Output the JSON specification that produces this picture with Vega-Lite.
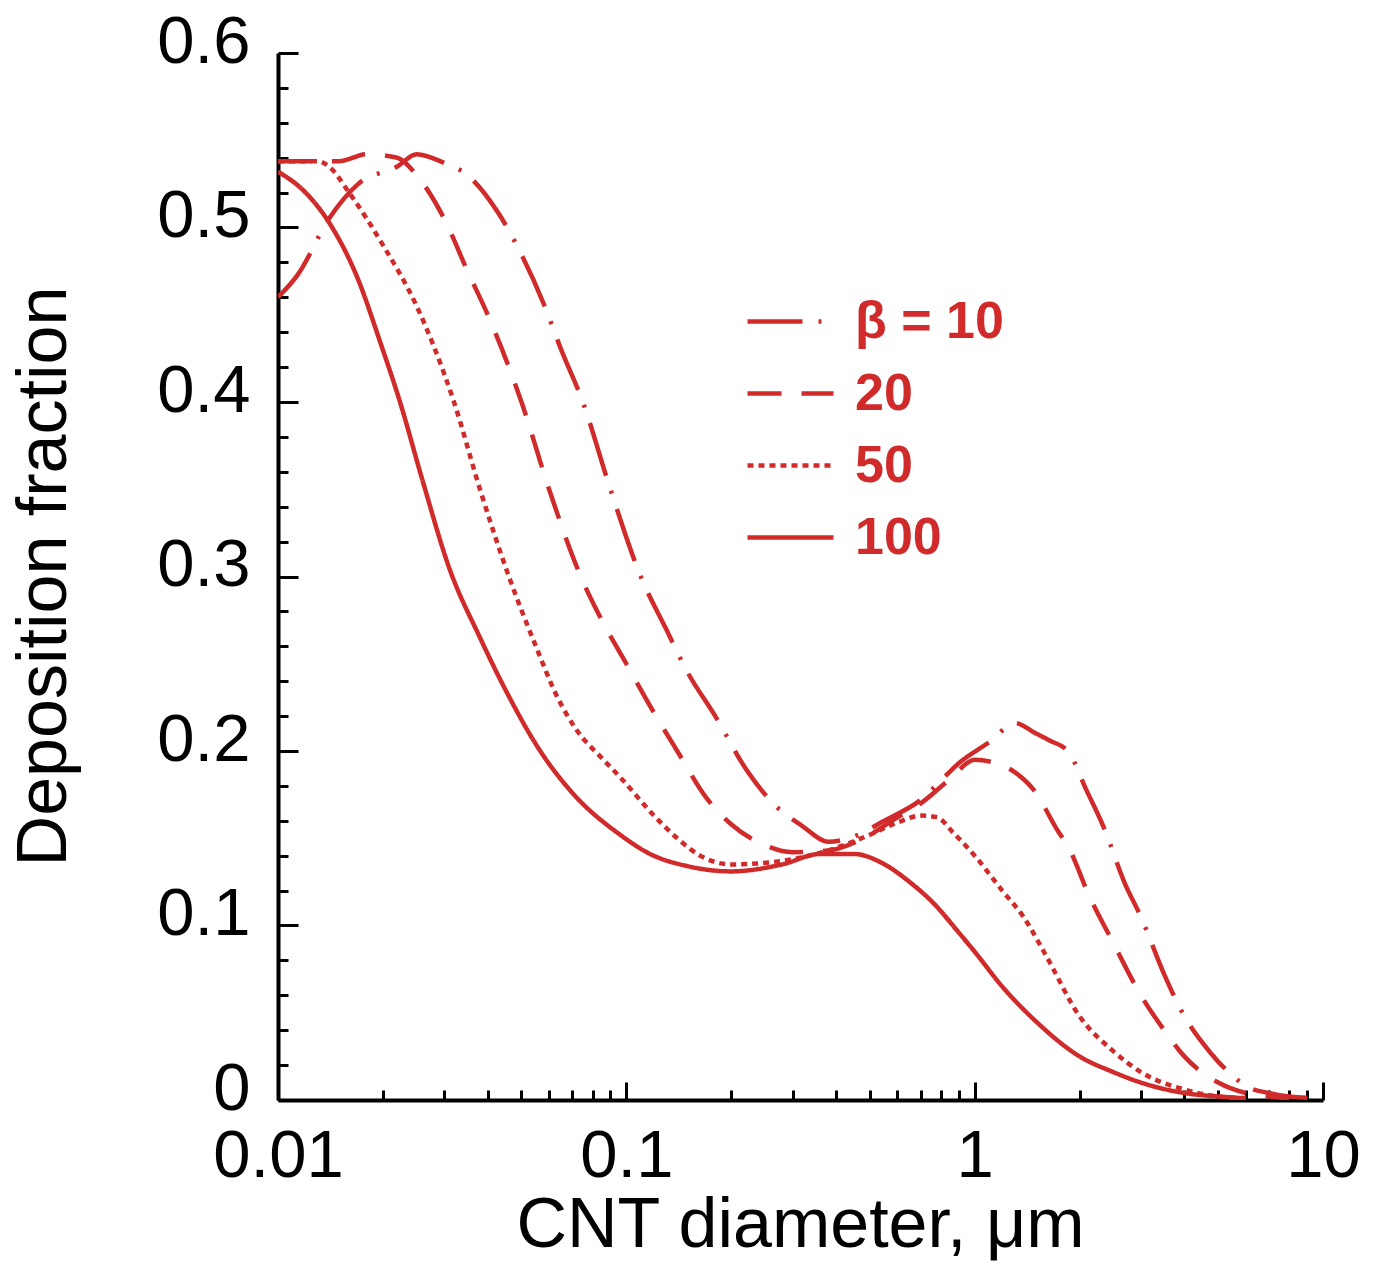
{
  "$schema": "https://vega.github.io/schema/vega-lite/v6.json",
  "width": 1045,
  "height": 1047,
  "autosize": "none",
  "padding": {"left": 278, "top": 53, "right": 53, "bottom": 179},
  "background": "white",
  "config": {"view": {"stroke": null}, "font": "Liberation Sans"},
  "data": {"values": [
    {"d":0.01,"f":0.46,"beta":"10"},{"d":0.0114,"f":0.473,"beta":"10"},{"d":0.014,"f":0.505,"beta":"10"},{"d":0.017,"f":0.525,"beta":"10"},{"d":0.022,"f":0.535,"beta":"10"},{"d":0.025,"f":0.542,"beta":"10"},{"d":0.03,"f":0.537,"beta":"10"},{"d":0.035,"f":0.53,"beta":"10"},{"d":0.043,"f":0.508,"beta":"10"},{"d":0.049,"f":0.488,"beta":"10"},{"d":0.058,"f":0.456,"beta":"10"},{"d":0.065,"f":0.43,"beta":"10"},{"d":0.075,"f":0.4,"beta":"10"},{"d":0.09,"f":0.35,"beta":"10"},{"d":0.11,"f":0.3,"beta":"10"},{"d":0.13,"f":0.27,"beta":"10"},{"d":0.15,"f":0.245,"beta":"10"},{"d":0.18,"f":0.22,"beta":"10"},{"d":0.22,"f":0.19,"beta":"10"},{"d":0.27,"f":0.168,"beta":"10"},{"d":0.32,"f":0.157,"beta":"10"},{"d":0.38,"f":0.148,"beta":"10"},{"d":0.45,"f":0.151,"beta":"10"},{"d":0.55,"f":0.16,"beta":"10"},{"d":0.71,"f":0.173,"beta":"10"},{"d":0.8,"f":0.183,"beta":"10"},{"d":0.9,"f":0.193,"beta":"10"},{"d":1.1,"f":0.205,"beta":"10"},{"d":1.31,"f":0.216,"beta":"10"},{"d":1.5,"f":0.21,"beta":"10"},{"d":1.64,"f":0.206,"beta":"10"},{"d":1.85,"f":0.2,"beta":"10"},{"d":2.1,"f":0.177,"beta":"10"},{"d":2.35,"f":0.156,"beta":"10"},{"d":2.7,"f":0.124,"beta":"10"},{"d":3,"f":0.105,"beta":"10"},{"d":3.5,"f":0.072,"beta":"10"},{"d":4,"f":0.048,"beta":"10"},{"d":4.5,"f":0.033,"beta":"10"},{"d":5,"f":0.022,"beta":"10"},{"d":5.5,"f":0.014,"beta":"10"},{"d":6,"f":0.008,"beta":"10"},{"d":7,"f":0.004,"beta":"10"},{"d":8,"f":0.002,"beta":"10"},{"d":10,"f":0.001,"beta":"10"},

    {"d":0.01,"f":0.538,"beta":"20"},{"d":0.015,"f":0.538,"beta":"20"},{"d":0.018,"f":0.542,"beta":"20"},{"d":0.022,"f":0.54,"beta":"20"},{"d":0.025,"f":0.53,"beta":"20"},{"d":0.03,"f":0.505,"beta":"20"},{"d":0.035,"f":0.475,"beta":"20"},{"d":0.04,"f":0.45,"beta":"20"},{"d":0.05,"f":0.4,"beta":"20"},{"d":0.06,"f":0.35,"beta":"20"},{"d":0.074,"f":0.3,"beta":"20"},{"d":0.085,"f":0.275,"beta":"20"},{"d":0.1,"f":0.25,"beta":"20"},{"d":0.12,"f":0.222,"beta":"20"},{"d":0.14,"f":0.2,"beta":"20"},{"d":0.17,"f":0.173,"beta":"20"},{"d":0.2,"f":0.158,"beta":"20"},{"d":0.25,"f":0.146,"beta":"20"},{"d":0.3,"f":0.142,"beta":"20"},{"d":0.38,"f":0.143,"beta":"20"},{"d":0.5,"f":0.152,"beta":"20"},{"d":0.6,"f":0.162,"beta":"20"},{"d":0.7,"f":0.17,"beta":"20"},{"d":0.85,"f":0.184,"beta":"20"},{"d":1.0,"f":0.195,"beta":"20"},{"d":1.15,"f":0.193,"beta":"20"},{"d":1.3,"f":0.188,"beta":"20"},{"d":1.5,"f":0.176,"beta":"20"},{"d":1.7,"f":0.157,"beta":"20"},{"d":1.9,"f":0.141,"beta":"20"},{"d":2.1,"f":0.12,"beta":"20"},{"d":2.5,"f":0.09,"beta":"20"},{"d":3,"f":0.06,"beta":"20"},{"d":3.5,"f":0.04,"beta":"20"},{"d":4,"f":0.025,"beta":"20"},{"d":5,"f":0.01,"beta":"20"},{"d":6,"f":0.004,"beta":"20"},{"d":7,"f":0.002,"beta":"20"},{"d":8,"f":0.001,"beta":"20"},

    {"d":0.01,"f":0.538,"beta":"50"},{"d":0.013,"f":0.538,"beta":"50"},{"d":0.014,"f":0.535,"beta":"50"},{"d":0.016,"f":0.52,"beta":"50"},{"d":0.02,"f":0.49,"beta":"50"},{"d":0.025,"f":0.455,"beta":"50"},{"d":0.028,"f":0.432,"beta":"50"},{"d":0.032,"f":0.4,"beta":"50"},{"d":0.038,"f":0.35,"beta":"50"},{"d":0.046,"f":0.3,"beta":"50"},{"d":0.055,"f":0.26,"beta":"50"},{"d":0.063,"f":0.232,"beta":"50"},{"d":0.072,"f":0.212,"beta":"50"},{"d":0.085,"f":0.196,"beta":"50"},{"d":0.096,"f":0.185,"beta":"50"},{"d":0.12,"f":0.163,"beta":"50"},{"d":0.14,"f":0.15,"beta":"50"},{"d":0.163,"f":0.14,"beta":"50"},{"d":0.2,"f":0.135,"beta":"50"},{"d":0.3,"f":0.138,"beta":"50"},{"d":0.38,"f":0.143,"beta":"50"},{"d":0.5,"f":0.152,"beta":"50"},{"d":0.6,"f":0.159,"beta":"50"},{"d":0.7,"f":0.163,"beta":"50"},{"d":0.78,"f":0.162,"beta":"50"},{"d":0.87,"f":0.153,"beta":"50"},{"d":1.0,"f":0.14,"beta":"50"},{"d":1.2,"f":0.12,"beta":"50"},{"d":1.38,"f":0.105,"beta":"50"},{"d":1.6,"f":0.083,"beta":"50"},{"d":2,"f":0.048,"beta":"50"},{"d":2.5,"f":0.028,"beta":"50"},{"d":3,"f":0.016,"beta":"50"},{"d":4,"f":0.006,"beta":"50"},{"d":5,"f":0.002,"beta":"50"},{"d":6,"f":0.001,"beta":"50"},

    {"d":0.01,"f":0.532,"beta":"100"},{"d":0.012,"f":0.52,"beta":"100"},{"d":0.014,"f":0.503,"beta":"100"},{"d":0.017,"f":0.47,"beta":"100"},{"d":0.0196,"f":0.435,"beta":"100"},{"d":0.0224,"f":0.4,"beta":"100"},{"d":0.026,"f":0.355,"beta":"100"},{"d":0.031,"f":0.305,"beta":"100"},{"d":0.038,"f":0.265,"beta":"100"},{"d":0.045,"f":0.235,"beta":"100"},{"d":0.0566,"f":0.2,"beta":"100"},{"d":0.07,"f":0.176,"beta":"100"},{"d":0.096,"f":0.152,"beta":"100"},{"d":0.117,"f":0.141,"beta":"100"},{"d":0.15,"f":0.134,"beta":"100"},{"d":0.2,"f":0.131,"beta":"100"},{"d":0.28,"f":0.135,"beta":"100"},{"d":0.36,"f":0.141,"beta":"100"},{"d":0.45,"f":0.141,"beta":"100"},{"d":0.54,"f":0.136,"beta":"100"},{"d":0.65,"f":0.125,"beta":"100"},{"d":0.76,"f":0.113,"beta":"100"},{"d":0.9,"f":0.096,"beta":"100"},{"d":1.0,"f":0.085,"beta":"100"},{"d":1.2,"f":0.065,"beta":"100"},{"d":1.5,"f":0.045,"beta":"100"},{"d":2,"f":0.025,"beta":"100"},{"d":2.5,"f":0.016,"beta":"100"},{"d":3,"f":0.01,"beta":"100"},{"d":4,"f":0.004,"beta":"100"},{"d":5,"f":0.002,"beta":"100"},{"d":6,"f":0.001,"beta":"100"}
  ]},
  "layer": [
    {
      "mark": {"type": "line", "opacity": 0, "interpolate": "monotone", "clip": true},
      "encoding": {
        "x": {
          "field": "d", "type": "quantitative",
          "scale": {"type": "log", "domain": [0.01, 10], "nice": false},
          "axis": {
            "orient": "top", "offset": -1047, "title": null, "labels": false, "domain": false, "grid": false,
            "values": [0.02,0.03,0.04,0.05,0.06,0.07,0.08,0.09,0.2,0.3,0.4,0.5,0.6,0.7,0.8,0.9,2,3,4,5,6,7,8,9],
            "tickSize": 10, "tickWidth": 3, "tickColor": "black"
          }
        },
        "y": {
          "field": "f", "type": "quantitative",
          "scale": {"domain": [0, 0.6], "nice": false, "zero": false},
          "axis": {
            "orient": "right", "offset": -1045, "title": null, "labels": false, "domain": false, "grid": false,
            "values": [0.02,0.04,0.06,0.08,0.12,0.14,0.16,0.18,0.22,0.24,0.26,0.28,0.32,0.34,0.36,0.38,0.42,0.44,0.46,0.48,0.52,0.54,0.56,0.58],
            "tickSize": 10, "tickWidth": 3, "tickColor": "black"
          }
        },
        "detail": {"field": "beta", "type": "nominal"}
      }
    },
    {
      "mark": {"type": "line", "opacity": 0, "interpolate": "monotone", "clip": true},
      "encoding": {
        "x": {
          "field": "d", "type": "quantitative",
          "axis": {
            "orient": "top", "offset": -1047, "title": null, "labels": false, "domain": false, "grid": false,
            "values": [0.01, 0.1, 1, 10],
            "tickSize": 18, "tickWidth": 3, "tickColor": "black"
          }
        },
        "y": {
          "field": "f", "type": "quantitative",
          "axis": {
            "orient": "right", "offset": -1045, "title": null, "labels": false, "domain": false, "grid": false,
            "values": [0, 0.1, 0.2, 0.3, 0.4, 0.5, 0.6],
            "tickSize": 20, "tickWidth": 3, "tickColor": "black"
          }
        },
        "detail": {"field": "beta", "type": "nominal"}
      }
    },
    {
      "mark": {"type": "line", "color": "#d12a2a", "strokeWidth": 4.5, "interpolate": "monotone", "clip": true},
      "encoding": {
        "x": {
          "field": "d", "type": "quantitative",
          "axis": {
            "orient": "bottom",
            "title": "CNT diameter, μm",
            "values": [0.01, 0.1, 1, 10],
            "format": "~g",
            "ticks": false,
            "domainColor": "black", "domainWidth": 4,
            "grid": false,
            "labelFont": "Liberation Sans", "labelFontSize": 67, "labelColor": "black",
            "labelPadding": 23, "labelFlush": false, "labelOverlap": false,
            "titleFont": "Liberation Sans", "titleFontSize": 70, "titleFontWeight": "normal", "titleColor": "black",
            "titleBaseline": "top", "titleY": 91, "titleX": 522
          }
        },
        "y": {
          "field": "f", "type": "quantitative",
          "axis": {
            "orient": "left",
            "title": "Deposition fraction",
            "values": [0, 0.1, 0.2, 0.3, 0.4, 0.5, 0.6],
            "format": "~g",
            "ticks": false,
            "domainColor": "black", "domainWidth": 4,
            "grid": false,
            "labelFont": "Liberation Sans", "labelFontSize": 67, "labelColor": "black",
            "labelPadding": 28, "labelOffset": -11, "labelFlush": false, "labelOverlap": false,
            "titleFont": "Liberation Sans", "titleFontSize": 70, "titleFontWeight": "normal", "titleColor": "black",
            "titleAngle": -90, "titleBaseline": "top", "titleX": -268, "titleY": 523, "titleAlign": "center"
          }
        },
        "strokeDash": {
          "field": "beta", "type": "nominal",
          "scale": {"domain": ["10", "20", "50", "100"], "range": [[55, 16, 3, 16], [34, 20], [6, 5], [1, 0]]},
          "legend": {
            "title": null,
            "orient": "none", "legendX": 467, "legendY": 223,
            "symbolType": "stroke", "symbolSize": 7400, "symbolStrokeWidth": 4.5, "symbolStrokeColor": "#d12a2a",
            "labelExpr": "datum.label == '10' ? 'β = 10' : datum.label",
            "labelFont": "Liberation Sans", "labelFontSize": 52, "labelFontWeight": "bold", "labelColor": "#d12a2a",
            "labelOffset": 19, "rowPadding": 0, "padding": 0, "labelLimit": 400
          }
        }
      }
    }
  ],
  "resolve": {"axis": {"x": "independent", "y": "independent"}}
}
